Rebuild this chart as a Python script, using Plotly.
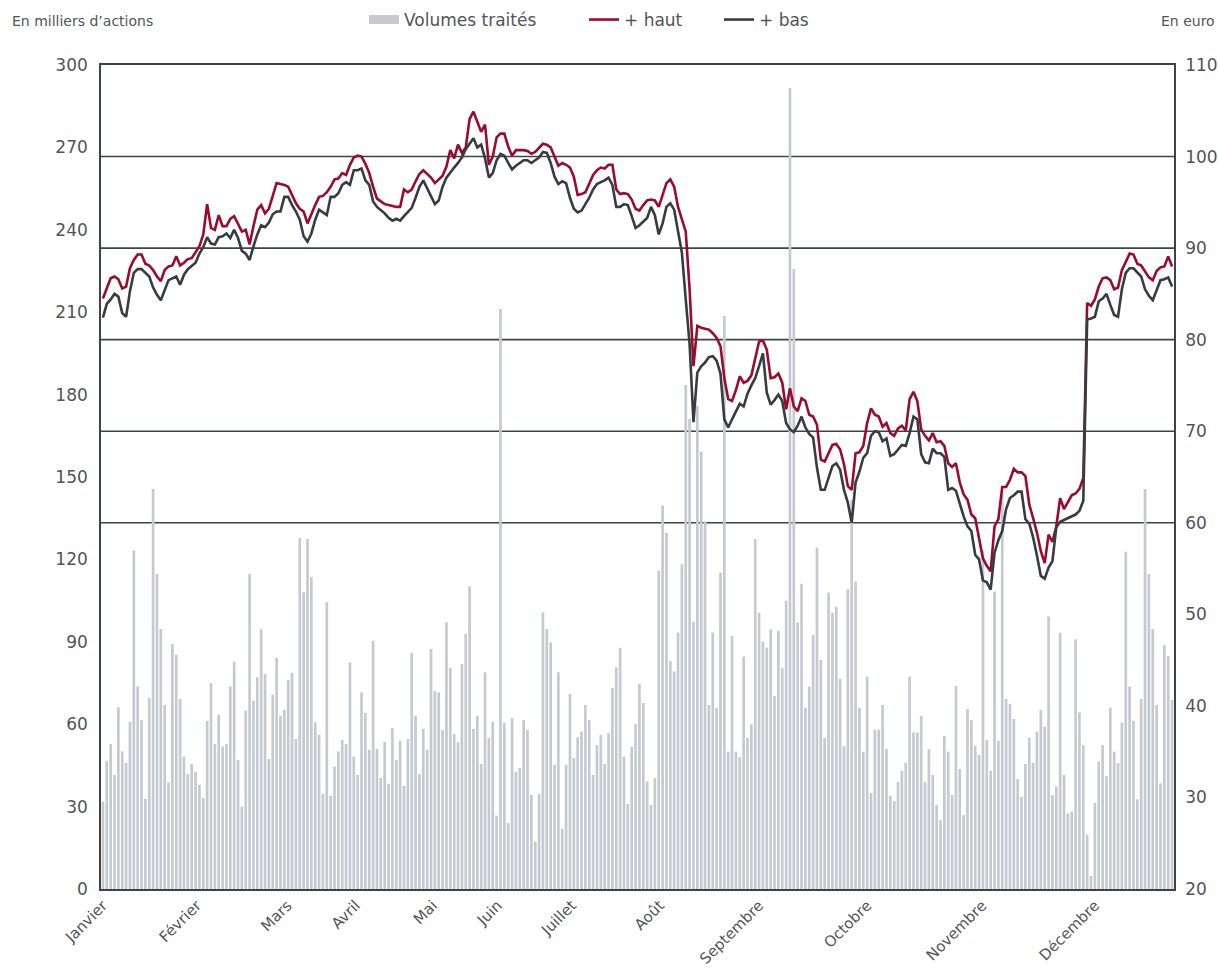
import plotly.graph_objects as go

# ---------------- data ----------------
volumes = [
    31.8, 46.7, 52.8, 41.5, 66.2, 50.1, 45.9, 60.9, 123.2, 73.8,
    61.5, 32.8, 69.6, 145.6, 114.7, 94.7, 67.0, 38.8, 89.2, 85.3,
    69.2, 48.2, 41.9, 45.5, 42.7, 38.0, 33.1, 61.2, 75.0, 52.8,
    63.4, 51.9, 52.8, 73.8, 82.8, 47.0, 30.0, 64.9, 114.7, 68.6,
    77.1, 94.6, 78.3, 47.3, 70.7, 84.1, 63.1, 65.2, 76.1, 78.7,
    54.6, 127.8, 108.0, 127.4, 113.5, 60.7, 56.1, 34.6, 104.4, 34.0,
    44.6, 50.1, 54.3, 52.8, 82.5, 48.2, 41.5, 71.6, 64.1, 50.7,
    90.4, 51.0, 40.4, 53.5, 38.3,
    58.6, 47.0, 54.0, 37.6, 54.6, 86.0, 63.1, 41.9, 58.3, 50.7,
    87.4, 72.1, 71.6, 57.9, 97.1, 80.5, 56.5, 53.4, 81.9, 92.9,
    110.2, 58.3, 63.1, 45.5, 78.9, 55.0, 60.9, 26.7, 211.2, 60.5,
    24.0, 62.3, 42.7, 44.1, 61.5, 57.9, 34.2, 17.2, 34.6, 100.8,
    94.7, 89.8, 45.2, 78.9, 21.9, 45.2, 71.0, 47.7, 55.2, 57.3,
    67.0, 61.5, 41.5, 52.4, 56.1, 45.5, 56.8, 73.2, 80.7, 87.8,
    48.2, 31.0, 51.8, 60.1, 74.7, 67.7, 39.2, 30.6, 40.4, 115.9,
    139.6, 129.7,
    83.0, 79.2, 93.4, 118.2, 183.5, 171.1, 97.3, 175.9, 159.3, 133.8,
    67.0, 93.4, 66.0, 115.2, 208.6, 50.0, 92.1, 50.0, 48.0, 84.6,
    55.0, 60.0, 127.4, 100.6, 90.1, 87.9, 94.6, 70.3, 94.0, 80.4,
    104.9, 291.6, 225.7, 97.0, 111.1, 66.0, 73.7, 92.5, 124.3, 83.4,
    55.0, 107.9, 100.6, 102.8, 76.5, 52.0, 109.1, 141.6, 111.9, 66.0,
    50.0, 77.3, 35.0, 58.0, 58.0, 67.0, 51.0, 34.0, 32.0, 39.0,
    43.0, 46.0, 77.3, 57.0, 57.0, 63.0, 39.0,
    50.9, 41.5, 30.6, 25.1, 55.7, 50.0, 34.2, 73.9, 43.7, 26.9,
    65.5, 61.5, 52.1, 48.8, 123.2, 54.2, 43.1, 108.3, 54.0, 143.8,
    69.2, 67.4, 61.9, 40.0, 33.6, 45.5, 55.1, 46.0, 57.3, 65.2,
    59.1, 99.2, 34.2, 37.3, 93.3, 41.5, 27.5, 28.2, 90.9, 64.3,
    52.4, 19.7, 4.7, 31.4, 46.4, 52.4, 41.1, 66.0, 50.0, 45.8,
    60.6, 122.8, 73.7, 61.3, 32.6, 69.2, 145.5, 114.7, 94.7, 67.0,
    38.5, 88.8, 84.8, 68.8,
]

haut = [
    84.5, 85.6, 86.7, 86.9, 86.6, 85.6, 85.8, 87.8, 88.7, 89.3,
    89.3, 88.3, 88.1, 87.6, 86.9, 86.4, 87.6, 88.0, 88.1, 89.1,
    88.1, 88.4, 88.8, 88.9, 89.5, 90.2, 91.5, 94.8, 92.2, 92.0,
    93.6, 92.4, 92.4, 93.2, 93.5, 92.7, 91.8, 92.0, 90.4, 92.4,
    94.2, 94.7, 93.8, 94.3, 95.6, 97.1, 97.0, 96.9, 96.7, 95.7,
    94.9, 94.3, 94.0, 92.7, 93.8, 94.7, 95.6, 95.7, 96.1, 96.7,
    97.5, 97.6, 98.2, 98.0, 99.1, 99.9, 100.1, 100.0, 99.2, 98.2,
    96.7, 95.4, 95.1, 94.8, 94.7, 94.6, 94.5, 94.5, 96.4, 96.1,
    96.4, 97.3, 98.1, 98.5, 98.1, 97.7, 97.1, 97.5, 97.9, 98.9,
    100.7, 99.8, 101.3, 100.4, 101.0, 104.1, 104.9, 103.8, 102.7, 103.5,
    99.1,
    100.0, 102.1, 102.5, 102.5, 101.1, 100.1, 100.7, 100.7, 100.7, 100.6,
    100.3, 100.5, 100.9, 101.4, 101.3, 101.0, 100.0, 99.0, 99.3, 99.1,
    98.8, 97.8, 95.8, 95.9, 96.1, 97.1, 98.0, 98.5, 98.8, 98.7,
    99.1, 99.1, 96.4, 95.9, 96.0, 95.9, 95.3, 94.3, 94.1, 94.7,
    95.2, 95.3, 95.2, 94.5, 95.9, 97.1, 97.5, 96.7, 94.5, 93.1,
    91.8, 85.5,
    77.1, 81.5, 81.3, 81.2, 81.1, 80.7, 80.2, 79.3, 75.8, 73.5,
    73.3, 74.5, 76.0, 75.3, 75.5, 76.1, 77.8, 79.8, 79.9, 78.9,
    75.8, 75.9, 76.3, 75.3, 72.4, 74.7, 72.7, 72.2, 73.6, 73.3,
    71.8, 71.6, 70.7, 66.9, 66.7, 67.6, 68.5, 68.6, 68.0, 66.4,
    64.0, 63.6, 67.6, 67.7, 68.4, 70.9, 72.5, 71.8, 71.6, 70.5,
    70.9, 69.8, 69.5, 70.3, 70.6, 70.1, 73.5, 74.3, 73.3, 70.2,
    69.5, 69.0, 69.8, 68.8, 68.9, 68.4, 66.5, 66.1, 66.5, 64.4,
    63.1, 62.5,
    60.9, 60.5, 58.2, 56.1, 55.3, 54.7, 59.6, 60.4, 63.9, 63.9,
    64.7, 65.9, 65.5, 65.5, 65.1, 62.0, 60.5, 58.9, 56.9, 55.6,
    58.7, 57.9, 59.6, 62.7, 61.5, 62.2, 63.0, 63.2, 63.7, 64.9,
    84.0, 83.7, 84.4, 85.8, 86.7, 86.8, 86.5, 85.5, 85.7, 87.6,
    88.5, 89.4, 89.3, 88.3, 88.1, 87.5, 86.8, 86.5, 87.5, 87.9,
    88.0, 89.1, 88.0,
]

bas = [
    82.4, 83.9, 84.4, 85.0, 84.7, 82.9, 82.5, 85.3, 87.3, 87.7,
    87.7, 87.3, 86.9, 85.7, 84.9, 84.3, 85.4, 86.5, 86.7, 86.9,
    86.0, 87.1, 87.7, 88.0, 88.4, 89.4, 90.1, 91.2, 90.5, 90.4,
    91.2, 91.3, 91.6, 91.1, 92.0, 91.1, 89.7, 89.4, 88.7, 90.2,
    91.5, 92.5, 92.3, 92.8, 93.7, 94.0, 94.0, 95.6, 95.6, 94.7,
    94.0, 93.1, 91.3, 90.7, 91.6, 93.1, 94.2, 93.9, 93.6, 95.6,
    95.6, 96.0, 96.9, 97.2, 96.9, 98.5, 98.5, 98.7, 97.4, 96.9,
    95.1, 94.5, 94.2, 93.8, 93.3, 93.0, 93.2, 93.0, 93.5, 93.9,
    94.4, 95.5, 96.7, 97.4, 96.5, 95.6, 94.8, 95.2, 96.7, 97.7,
    98.3, 98.8, 99.3, 99.9, 100.8, 101.4, 102.0, 101.0, 101.3, 99.8,
    97.7, 98.2, 99.6, 100.3, 100.1, 99.3, 98.6, 99.0, 99.3, 99.6,
    99.6, 99.3, 99.6, 99.9, 100.5, 100.4, 99.3, 97.8, 97.0, 97.3,
    97.1, 95.5, 94.3, 93.9, 94.1, 94.8, 95.5, 96.4, 97.0, 97.2,
    97.4, 97.7, 96.9, 94.5, 94.5, 94.8, 94.7, 93.5, 92.2, 92.5,
    92.9, 93.3, 94.5, 93.6, 91.5, 92.7, 94.5, 94.9, 94.2, 92.0,
    89.5, 84.4, 79.5,
    71.0, 76.4, 77.1, 77.5, 78.1, 78.2, 77.7, 76.3, 71.3, 70.4,
    71.3, 72.1, 73.0, 72.7, 74.1, 75.0, 75.8, 77.1, 78.5, 74.2,
    72.9, 73.4, 74.0, 73.3, 70.9, 70.2, 69.9, 70.6, 71.6, 70.4,
    69.7, 69.3, 66.0, 63.6, 63.6, 64.9, 66.2, 66.5, 65.8, 63.6,
    62.2, 60.0, 64.4, 65.6, 67.1, 67.6, 69.5, 70.0, 69.9, 68.9,
    69.2, 67.3, 67.5, 68.0, 68.5, 68.4, 69.8, 71.6, 71.3, 67.5,
    66.6, 66.5, 68.1, 67.6, 67.6, 67.2, 63.6, 63.8, 63.5, 62.1,
    60.7, 59.6,
    59.1, 56.5, 56.0, 53.7, 53.5, 52.7, 56.7, 58.1, 59.1, 61.5,
    62.7, 63.0, 63.4, 63.4, 60.4, 59.9, 58.4, 56.4, 54.2, 53.9,
    55.1, 55.8, 59.5, 60.1, 60.3, 60.5, 60.7, 60.9, 61.3, 62.4,
    82.2, 82.3, 82.5, 84.2, 84.5, 85.0, 83.8, 82.7, 82.5, 85.5,
    87.3, 87.8, 87.8, 87.3, 86.9, 85.5, 84.8, 84.3, 85.4, 86.5,
    86.6, 86.8, 85.8,
]

month_labels = ["Janvier", "Février", "Mars", "Avril", "Mai", "Juin", "Juillet",
                "Août", "Septembre", "Octobre", "Novembre", "Décembre"]
month_ticks = [0, 24.3, 47.8, 65.5, 85.5, 102.3, 121.5, 144.3, 170, 198, 227.8, 257]

volume_ticks = list(range(0, 301, 30))
price_ticks = list(range(20, 111, 10))
price_grid = [60, 70, 80, 90, 100]

days = list(range(len(volumes)))

# ---------------- styling ----------------
W, H = 1218, 968
L, R, T, B = 101, 1174, 65, 889
BAR = "#c6cad0"
RED = "#9a0b2d"
DARK = "#363c41"
FRAME = "#3d4348"
TXT = "#50555b"
FONT = "DejaVu Sans"


def px_x(p):
    return (p - L) / (R - L)


def px_y(p):
    return (B - p) / (B - T)


fig = go.Figure()
fig.add_trace(go.Bar(
    x=days, y=volumes, name="Volumes traités", marker=dict(color=BAR, line=dict(width=0)),
    legendgroup="vol", showlegend=False, yaxis="y", hoverinfo="y",
))
fig.add_trace(go.Scatter(
    x=[None], y=[None], mode="lines", name="Volumes traités",
    line=dict(color=BAR, width=9), legendgroup="vol", legend="legend",
))
fig.add_trace(go.Scatter(
    x=days, y=haut, mode="lines", name="+ haut", yaxis="y2",
    line=dict(color=RED, width=2.6), legend="legend2",
))
fig.add_trace(go.Scatter(
    x=days, y=bas, mode="lines", name="+ bas", yaxis="y2",
    line=dict(color=DARK, width=2.6), legend="legend3",
))

legend_common = dict(orientation="h", yanchor="middle", y=px_y(20), xanchor="left",
                     font=dict(family=FONT, size=17, color=TXT), bgcolor="rgba(0,0,0,0)")

fig.update_layout(
    width=W, height=H,
    margin=dict(l=L, r=W - R, t=T, b=H - B, pad=0, autoexpand=False),
    paper_bgcolor="white", plot_bgcolor="white",
    font=dict(family=FONT, color=TXT),
    bargap=0.3,
    xaxis=dict(
        range=[-0.5, len(days) - 0.5], tickmode="array", tickvals=month_ticks, ticktext=month_labels,
        tickangle=-45, tickfont=dict(size=15, color=TXT), ticks="", automargin=False,
        showgrid=False, zeroline=False, showline=True, linecolor=FRAME, linewidth=1.6, mirror=True,
    ),
    yaxis=dict(
        range=[0, 300], tickmode="array", tickvals=volume_ticks, tickfont=dict(size=17, color=TXT),
        ticks="", ticklabelstandoff=8, automargin=False,
        showgrid=False, zeroline=False, showline=True, linecolor=FRAME, linewidth=1.6,
    ),
    yaxis2=dict(
        range=[20, 110], tickmode="array", tickvals=price_ticks, tickfont=dict(size=17, color=TXT),
        ticks="", ticklabelstandoff=6, overlaying="y", side="right", automargin=False,
        showgrid=False, zeroline=False, showline=True, linecolor=FRAME, linewidth=1.6,
    ),
    legend=dict(legend_common, x=px_x(364)),
    legend2=dict(legend_common, x=px_x(584)),
    legend3=dict(legend_common, x=px_x(719)),
    shapes=[
        dict(type="line", xref="paper", x0=0, x1=1, yref="y2", y0=g, y1=g,
             line=dict(color=FRAME, width=1.6), layer="below")
        for g in price_grid
    ],
    annotations=[
        dict(text="En milliers d’actions", xref="paper", yref="paper", x=px_x(10), y=px_y(21),
             xanchor="left", yanchor="middle", showarrow=False, font=dict(size=14, color=TXT)),
        dict(text="En euro", xref="paper", yref="paper", x=px_x(1159), y=px_y(21),
             xanchor="left", yanchor="middle", showarrow=False, font=dict(size=14, color=TXT)),
    ],
    showlegend=True,
)

fig.write_html(
    "out.html",
    config={"displayModeBar": False},
    post_script="document.body.style.margin='0';document.body.style.overflow='hidden';",
)
